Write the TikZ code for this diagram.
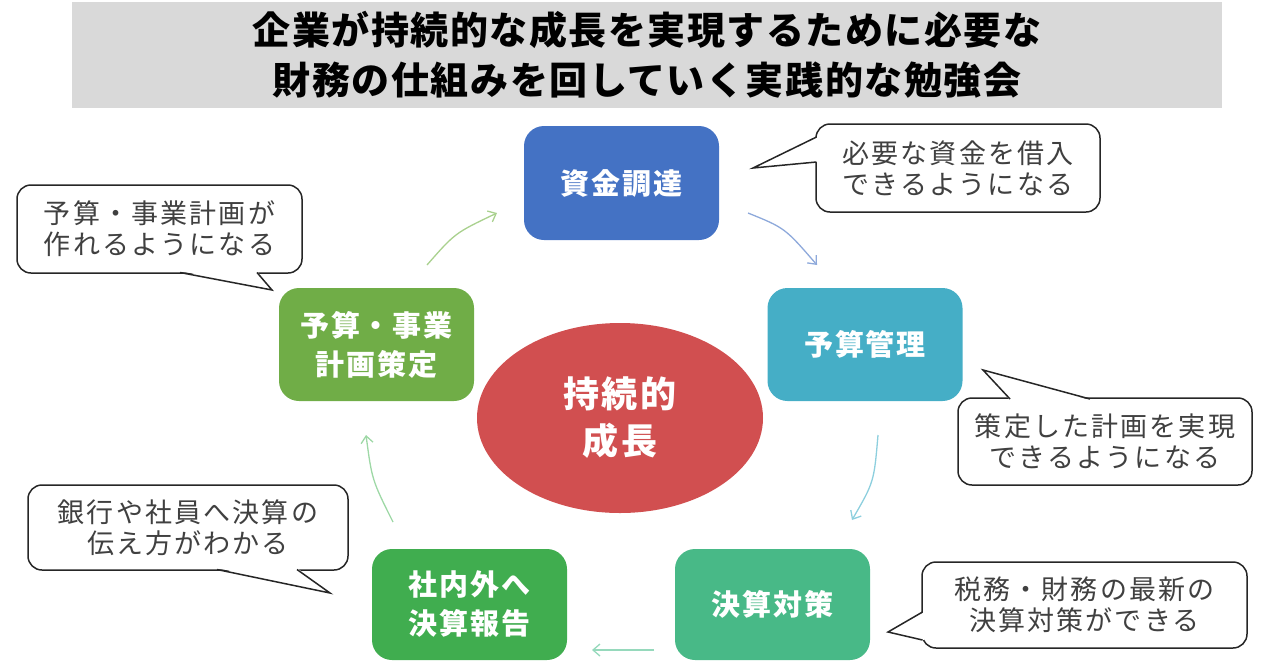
\documentclass[tikz,border=0pt]{standalone}
\usepackage{fontspec}
\newfontfamily\jptitle{Noto Sans CJK JP}[LetterSpace=4]
\newfontfamily\jpbox{Noto Sans CJK JP}[LetterSpace=6]
\newfontfamily\jpcall{Noto Sans CJK JP}[LetterSpace=8]
\usetikzlibrary{shapes.geometric,arrows.meta}
\definecolor{cblue}{HTML}{4472C4}
\definecolor{cteal}{HTML}{45AEC6}
\definecolor{cseag}{HTML}{48B987}
\definecolor{cgreen}{HTML}{40AD4F}
\definecolor{colive}{HTML}{70AD47}
\definecolor{cred}{HTML}{D14F50}
\definecolor{ctitle}{HTML}{D9D9D9}
\definecolor{ctext}{HTML}{404040}
\definecolor{ablue}{HTML}{8EA9DB}
\definecolor{ateal}{HTML}{8DCFDE}
\definecolor{aseag}{HTML}{96D9BC}
\definecolor{agreen}{HTML}{9ED8A6}
\definecolor{aolive}{HTML}{A9D18E}
\tikzset{
  stepbox/.style={rounded corners=20pt, minimum width=195pt, minimum height=113pt,
    align=center, text=white, font=\jpbox\bfseries\fontsize{29}{39}\selectfont, inner sep=0pt},
  callbox/.style={draw=black!85, line width=1.5pt, fill=white, rounded corners=14pt,
    align=center, text=ctext, font=\jpcall\fontsize{27}{31}\selectfont, inner sep=0pt},
  callptr/.style={draw=black!85, line width=1.5pt, line join=miter},
  flow/.style={line width=1.3pt, -{Straight Barb[length=7pt,width=12pt]}},
}
\begin{document}
\begin{tikzpicture}[x=1pt,y=-1pt]
\useasboundingbox (0,0) rectangle (1286,665);
% title
\node[fill=ctitle, minimum width=1150pt, minimum height=106pt, inner sep=0pt, align=center,
  font=\jptitle\bfseries\fontsize{38}{50}\selectfont] (title) at (647,55)
  {企業が持続的な成長を実現するために必要な\\財務の仕組みを回していく実践的な勉強会};
% steps
\node[stepbox, fill=cblue, minimum height=114pt] (a) at (621.5,183) {資金調達};
\node[stepbox, fill=cteal] (b) at (865,344.5) {予算管理};
\node[stepbox, fill=cseag, minimum height=111pt] (c) at (772.5,604.5) {決算対策};
\node[stepbox, fill=cgreen, minimum height=111pt] (d) at (469.5,604.5) {社内外へ\\決算報告};
\node[stepbox, fill=colive] (e) at (376.5,344.5) {予算・事業\\計画策定};
% center
\node[ellipse, fill=cred, minimum width=286pt, minimum height=190pt, inner sep=0pt,
  align=center, text=white, font=\jpbox\bfseries\fontsize{36}{47}\selectfont] (core) at (620,418) {持続的\\成長};
% arrows
\coordinate (a1s) at (748,213); \coordinate (a1e) at (817,265);
\coordinate (a2s) at (878,435); \coordinate (a2e) at (852,520);
\coordinate (a3s) at (654,650); \coordinate (a3e) at (592,650);
\coordinate (a4s) at (393,522); \coordinate (a4e) at (366,435);
\coordinate (a5s) at (427,265); \coordinate (a5e) at (497,213);
\draw[flow, draw=ablue] (a1s) .. controls (785,228) .. (a1e);
\draw[flow, draw=ateal] (a2s) .. controls (874,482) .. (a2e);
\draw[flow, draw=aseag] (a3s) -- (a3e);
\draw[flow, draw=agreen] (a4s) .. controls (372,480) .. (a4e);
\draw[flow, draw=aolive] (a5s) .. controls (455,233) .. (a5e);
% callouts
\node[callbox, minimum width=284pt, minimum height=88pt] (k1) at (958,168) {必要な資金を借入\\できるようになる};
\node[callbox, minimum width=294pt, minimum height=87pt] (k2) at (1105,441.5) {策定した計画を実現\\できるようになる};
\node[callbox, minimum width=285pt, minimum height=88pt] (k3) at (159.5,229) {予算・事業計画が\\作れるようになる};
\node[callbox, minimum width=320pt, minimum height=85pt] (k4) at (188,527.5) {銀行や社員へ決算の\\伝え方がわかる};
\node[callbox, minimum width=325pt, minimum height=86pt] (k5) at (1084.5,605) {税務・財務の最新の\\決算対策ができる};
% pointers
\coordinate (p1) at (753,168); \coordinate (p2) at (983,370); \coordinate (p3) at (272,290);
\coordinate (p4) at (330,593); \coordinate (p5) at (888,632);
\fill[white] (818,137) -- (p1) -- (818,162) -- cycle;
\draw[callptr] (816.5,137) -- (p1) -- (816.5,162);
\fill[white] (1010,400) -- (p2) -- (1090,400) -- cycle;
\draw[callptr] (1010,399) -- (p2) -- (1090,399);
\fill[white] (180,271) -- (p3) -- (257,271) -- cycle;
\draw[callptr] (180,272.5) -- (p3) -- (257,272.5);
\fill[white] (217,568) -- (p4) -- (297,568) -- cycle;
\draw[callptr] (217,569.5) -- (p4) -- (297,569.5);
\fill[white] (924,612) -- (p5) -- (924,640) -- cycle;
\draw[callptr] (922.5,612) -- (p5) -- (922.5,640);
\end{tikzpicture}
\end{document}
